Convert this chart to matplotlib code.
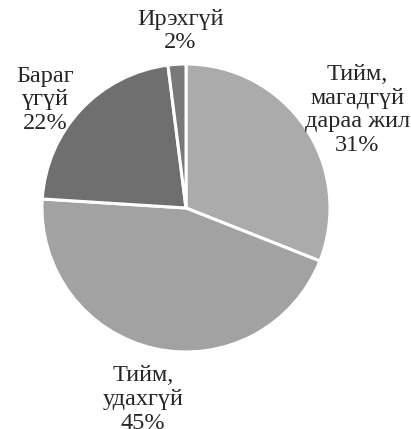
import matplotlib.pyplot as plt

# ------------------------
# Data
# ------------------------
labels = ["Тийм,\nмагадгүй\nдараа жил", "Тийм,\nудахгүй", "Бараг\nүгүй", "Ирэхгүй"]
shares = [31, 45, 22, 2]
colors = ["#ababab", "#a2a2a2", "#6f6f6f", "#797979"]

# label anchor positions in axes data units (center of pie = 0,0, radius = 1)
label_pos = [(1.19, 0.68), (-0.30, -1.33), (-0.98, 0.75), (-0.04, 1.23)]

plt.rcParams["font.family"] = ["Liberation Serif", "DejaVu Serif"]

fig = plt.figure(figsize=(4.11, 4.29), dpi=100)
ax = fig.add_axes([42 / 411, 1 - 352 / 429, 288 / 411, 288 / 429])

wedges, _ = ax.pie(shares, colors=colors, startangle=90, counterclock=False,
                   wedgeprops=dict(edgecolor="white", linewidth=2.2))

for lab, val, (x, y) in zip(labels, shares, label_pos):
    ax.text(x, y, f"{lab}\n{val}%", ha="center", va="center",
            fontsize=17.5, color="#262626", linespacing=1.17, clip_on=False)

ax.set_xlim(-1, 1)
ax.set_ylim(-1, 1)
ax.set_aspect("equal")
ax.axis("off")

fig.savefig("out.png", dpi=100)
